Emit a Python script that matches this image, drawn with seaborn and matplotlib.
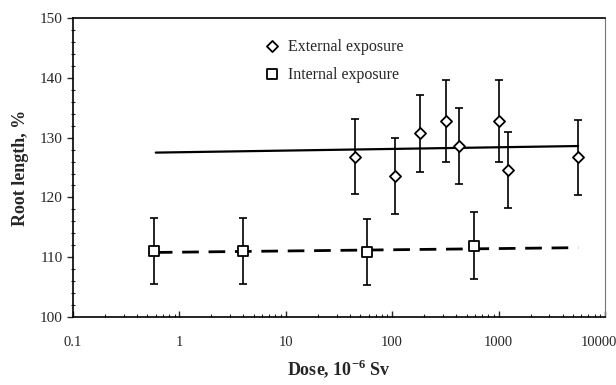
import numpy as np
import pandas as pd
import matplotlib
matplotlib.use("Agg")
import matplotlib.pyplot as plt
import matplotlib.transforms as mtransforms
from matplotlib.ticker import LogLocator, FixedLocator, MultipleLocator, NullFormatter
import seaborn as sns

# Data
ext_dose = [45, 106, 183, 318, 424, 1016, 1236, 5600]
ext_len = [126.8, 123.6, 130.7, 132.8, 128.6, 132.8, 124.6, 126.7]
ext_err = [6.3, 6.3, 6.5, 6.8, 6.4, 6.8, 6.3, 6.3]

int_dose = [0.58, 4.0, 58.6, 586]
int_len = [111.1, 111.0, 110.9, 111.9]
int_err = [5.5, 5.5, 5.5, 5.6]

trend_dose = [0.6, 5600]
ext_trend = [127.5, 128.6]
int_trend = [110.8, 111.6]

xticks = [0.1, 1, 10, 100, 1000, 10000]
xticklabels = ["0.1", "1", "10", "100", "1000", "10000"]
yticks = [100, 110, 120, 130, 140, 150]

sns.set_style("ticks")
plt.rcParams["font.family"] = ["Liberation Serif", "DejaVu Serif"]
plt.rcParams["mathtext.fontset"] = "custom"
plt.rcParams["mathtext.rm"] = "Liberation Serif"
plt.rcParams["mathtext.bf"] = "Liberation Serif:bold"

fig = plt.figure(figsize=(6.16, 3.85), dpi=100)
ax = fig.add_axes([0.1185, 0.1766, 0.8635, 0.7764])

ext_df = pd.DataFrame({"dose": ext_dose, "len": ext_len})
int_df = pd.DataFrame({"dose": int_dose, "len": int_len})
trend_df = pd.DataFrame({"dose": trend_dose, "ext": ext_trend, "int": int_trend})

sns.lineplot(data=trend_df, x="dose", y="ext", ax=ax, color="black", lw=1.6, zorder=2)
sns.lineplot(data=trend_df, x="dose", y="int", ax=ax, color="black", lw=2.0,
             linestyle=(0, (6, 3.5)), zorder=2)

ax.errorbar(ext_dose, ext_len, yerr=ext_err, fmt="none", ecolor="black",
            elinewidth=1.2, capsize=3, capthick=1.2, zorder=3)
ax.errorbar(int_dose, int_len, yerr=int_err, fmt="none", ecolor="black",
            elinewidth=1.2, capsize=3, capthick=1.2, zorder=3)

sns.scatterplot(data=ext_df, x="dose", y="len", ax=ax, marker="D", s=32,
                facecolor="white", edgecolor="black", linewidth=1.3, zorder=4,
                label="External exposure")
sns.scatterplot(data=int_df, x="dose", y="len", ax=ax, marker="s", s=45,
                facecolor="white", edgecolor="black", linewidth=1.3, zorder=4,
                label="Internal exposure")

ax.set_xscale("log")
ax.set_xlim(0.1, 10000)
ax.set_ylim(100, 150)
ax.xaxis.set_major_locator(FixedLocator(xticks))
ax.set_xticklabels(xticklabels)
ax.xaxis.set_minor_locator(LogLocator(base=10, subs=np.arange(2, 10)))
ax.xaxis.set_minor_formatter(NullFormatter())
ax.yaxis.set_major_locator(FixedLocator(yticks))
ax.yaxis.set_minor_locator(MultipleLocator(2))

ax.tick_params(axis="x", which="major", direction="in", length=4, width=1, labelsize=10.5, pad=14)
ax.tick_params(axis="x", which="minor", direction="in", length=2.5, width=0.8)
ax.tick_params(axis="y", which="major", direction="out", length=4, width=1, labelsize=11)
ax.tick_params(axis="y", which="minor", direction="inout", length=3, width=0.8)

# nudge last x tick label so it stays inside the figure
last = ax.get_xticklabels()[-1]
last.set_transform(last.get_transform() + mtransforms.ScaledTranslation(-6 / 100, 0, fig.dpi_scale_trans))

for s in ["left", "bottom", "top"]:
    ax.spines[s].set_color("black")
    ax.spines[s].set_linewidth(1.2)
ax.spines["right"].set_visible(True)
ax.spines["right"].set_color("#777777")
ax.spines["right"].set_linewidth(0.8)
ax.spines["top"].set_visible(True)

ax.set_xlabel(r"Dose, 10$^{\mathbf{-6}}$ Sv", fontsize=13, fontweight="bold", labelpad=6)
ax.set_ylabel("Root length, %", fontsize=13, fontweight="bold", labelpad=8)

leg = ax.legend(loc="upper left", bbox_to_anchor=(0.332, 0.953), frameon=False,
                fontsize=11.5, handletextpad=0.0, labelspacing=0.75, borderaxespad=0)

fig.savefig("out.png", dpi=100)
